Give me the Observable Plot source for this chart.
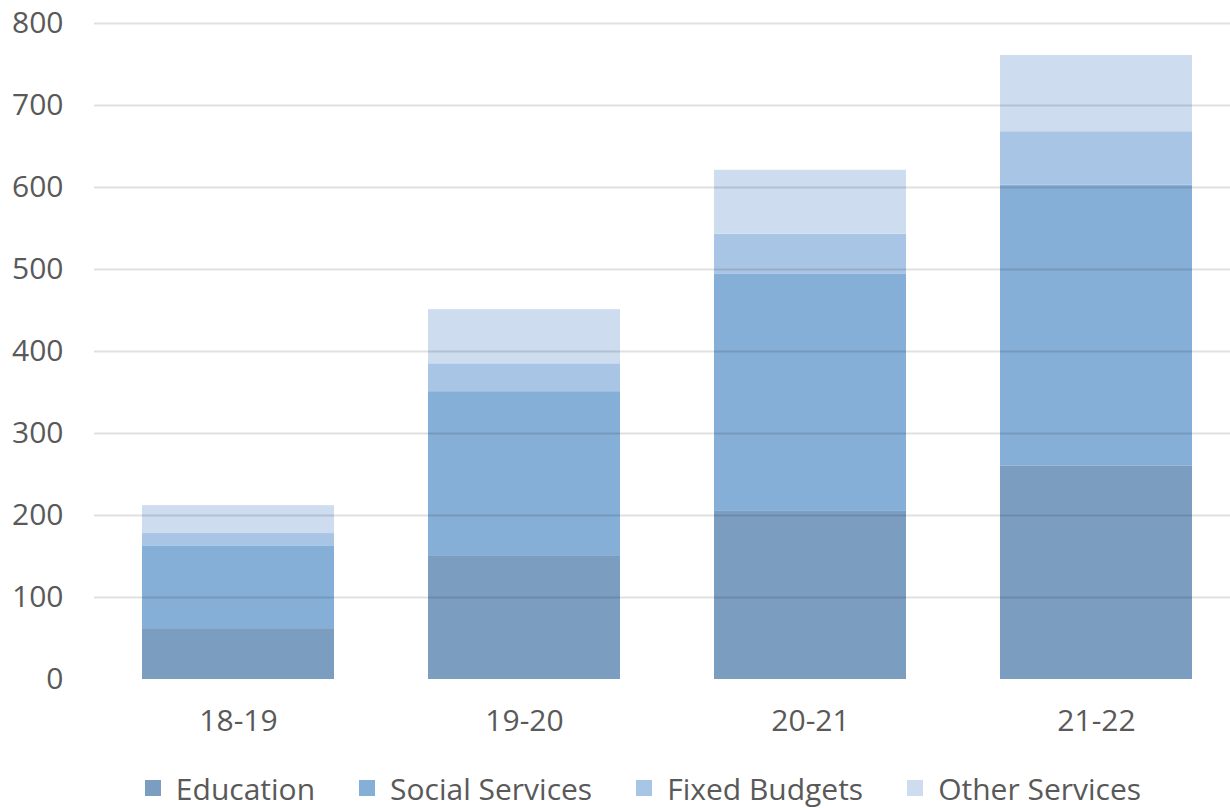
<!DOCTYPE html>
<html>
<head>
<meta charset="utf-8">
<script src="https://cdn.jsdelivr.net/npm/d3@7"></script>
<script src="https://cdn.jsdelivr.net/npm/@observablehq/plot@0.6"></script>
<style>
  html, body { margin: 0; padding: 0; background: #fff; }
  body { width: 1230px; height: 808px; overflow: hidden; font-family: "Open Sans", sans-serif; }
  #legend { display: flex; justify-content: center; align-items: center; padding-left: 56px; padding-top: 8px; height: 56px; color: #595959; font-size: 30px; }
  .item { display: flex; align-items: center; margin: 0 22px; }
  .sw { width: 16px; height: 16px; margin-right: 15px; }
</style>
</head>
<body>
<div id="chart"></div>
<div id="legend"></div>
<script>
const years = ["18-19", "19-20", "20-21", "21-22"];
const series = ["Education", "Social Services", "Fixed Budgets", "Other Services"];
const education = [62, 151, 205, 260];
const socialServices = [101, 200, 289, 343];
const fixedBudgets = [15, 34, 49, 65];
const otherServices = [34, 66, 78, 93];
const colors = ["#7b9ec0", "#86afd7", "#a9c5e5", "#cddcee"];
const yTicks = [0, 100, 200, 300, 400, 500, 600, 700, 800];

const values = [education, socialServices, fixedBudgets, otherServices];
const data = [];
series.forEach((s, i) => years.forEach((y, j) => data.push({year: y, series: s, value: values[i][j]})));

const chart = Plot.plot({
  width: 1230,
  height: 752,
  marginTop: 23,
  marginBottom: 73,
  marginLeft: 94,
  marginRight: -10,
  style: {fontFamily: '"Open Sans", sans-serif', fontSize: "30px", color: "#595959", background: "#fff", overflow: "visible"},
  x: {domain: years, paddingInner: 0.33, paddingOuter: 0.165, label: null, tickSize: 0, tickPadding: 30},
  y: {domain: [0, 800], ticks: yTicks, label: null, tickSize: 0, tickPadding: 31},
  color: {domain: series, range: colors},
  marks: [
    Plot.barY(data, Plot.stackY({x: "year", y: "value", fill: "series", order: series})),
    Plot.ruleY(yTicks.filter(d => d > 0), {stroke: "#000", strokeOpacity: 0.12, strokeWidth: 2})
  ]
});
document.getElementById("chart").appendChild(chart);

const legend = document.getElementById("legend");
series.forEach((s, i) => {
  const it = document.createElement("div");
  it.className = "item";
  const sw = document.createElement("div");
  sw.className = "sw";
  sw.style.background = colors[i];
  const t = document.createElement("span");
  t.textContent = s;
  it.appendChild(sw); it.appendChild(t);
  legend.appendChild(it);
});
</script>
</body>
</html>
